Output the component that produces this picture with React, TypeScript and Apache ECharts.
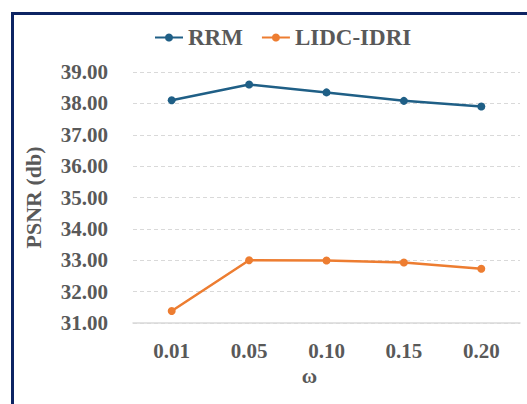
import React, { useEffect, useRef } from "react";
import * as echarts from "echarts";

const categories = ["0.01", "0.05", "0.10", "0.15", "0.20"];
const rrmValues = [38.1, 38.6, 38.35, 38.08, 37.9];
const lidcValues = [31.38, 33.0, 32.99, 32.93, 32.73];
const seriesNames = ["RRM", "LIDC-IDRI"];
const yMin = 31;
const yMax = 39;
const yInterval = 1;

const textColor = "#595959";
const font = "'Liberation Serif', 'Times New Roman', serif";

export default function App() {
  const ref = useRef<HTMLDivElement>(null);
  useEffect(() => {
    if (!ref.current) return;
    const chart = echarts.init(ref.current, undefined, { renderer: "svg" });
    chart.setOption({
      animation: false,
      backgroundColor: "#ffffff",
      graphic: [
        {
          type: "rect",
          shape: { x: 12.5, y: 13.5, width: 600, height: 500 },
          style: { fill: "none", stroke: "#0d2463", lineWidth: 3 },
          silent: true,
          z: 100,
        },
      ],
      legend: {
        top: 21,
        left: 149,
        itemWidth: 28,
        itemHeight: 10,
        itemGap: 18,
        textStyle: { color: textColor, fontFamily: font, fontWeight: "bold", fontSize: 23 },
        data: seriesNames,
      },
      grid: { left: 133, right: 7, top: 72, bottom: 81, containLabel: false },
      xAxis: {
        type: "category",
        data: categories,
        boundaryGap: true,
        name: "ω",
        nameLocation: "middle",
        nameGap: 42,
        nameTextStyle: { color: textColor, fontFamily: font, fontWeight: "bold", fontSize: 21, padding: [0, 34, 0, 0] },
        axisLine: { show: true, lineStyle: { color: "#d9d9d9", width: 1.5 } },
        axisTick: { show: false },
        axisLabel: { color: textColor, fontFamily: font, fontWeight: "bold", fontSize: 21, margin: 17 },
        splitLine: { show: false },
      },
      yAxis: {
        type: "value",
        min: yMin,
        max: yMax,
        interval: yInterval,
        name: "PSNR (db)",
        nameLocation: "middle",
        nameGap: 89,
        nameRotate: 90,
        nameTextStyle: { color: textColor, fontFamily: font, fontWeight: "bold", fontSize: 22 },
        axisLine: { show: false },
        axisTick: { show: false },
        axisLabel: {
          color: textColor,
          fontFamily: font,
          fontWeight: "bold",
          fontSize: 21,
          margin: 25,
          formatter: (v: number) => v.toFixed(2),
        },
        splitLine: { show: true, lineStyle: { color: "#d9d9d9", type: [4, 3], width: 1 } },
      },
      series: [
        {
          name: seriesNames[0],
          type: "line",
          data: rrmValues,
          symbol: "circle",
          symbolSize: 8,
          lineStyle: { color: "#1f5f86", width: 2.5 },
          itemStyle: { color: "#1f5f86" },
        },
        {
          name: seriesNames[1],
          type: "line",
          data: lidcValues,
          symbol: "circle",
          symbolSize: 8,
          lineStyle: { color: "#ed7d31", width: 2.5 },
          itemStyle: { color: "#ed7d31" },
        },
      ],
    });
    return () => chart.dispose();
  }, []);
  return (
    <div
      ref={ref}
      style={{ position: "fixed", left: 0, top: 0, width: 527, height: 404 }}
    />
  );
}
